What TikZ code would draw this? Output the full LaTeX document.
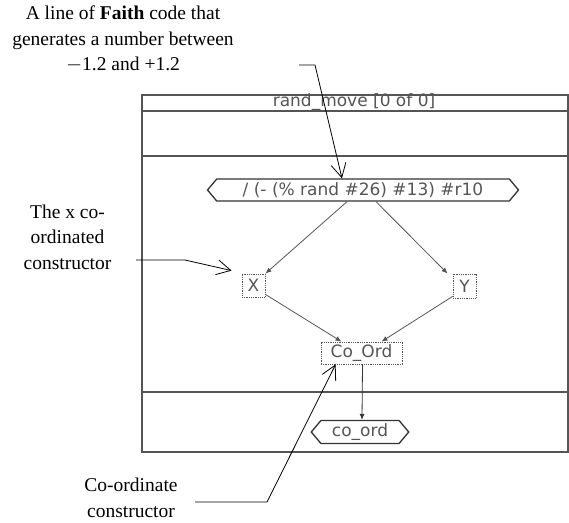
\documentclass[tikz,border=0pt]{standalone}
\usepackage{fontspec}
\setmainfont{Liberation Serif}
\newfontfamily\faithfont{DejaVu Sans}
\usepackage{tikz}
\usetikzlibrary{arrows.meta, shapes.symbols}
\definecolor{fgray}{RGB}{85,85,85}

\begin{document}
\begin{tikzpicture}[x=1pt, y=-1pt, >=Latex,   % pixel coordinates, y downwards
					note/.style={align=center, font=\fontsize{19.5}{25.5}\selectfont, inner sep=0pt},
					lead/.style={line width=0.8pt, -{Straight Barb[length=14pt,width=15pt]}},
					frm/.style={draw=fgray, line width=1.2pt},
					cons/.style={draw=fgray, densely dotted, thick, inner sep=0pt, text=fgray, font=\faithfont\fontsize{17}{18}\selectfont},
					term/.style={signal, signal to=west and east, signal pointer angle=100, draw=black!80, line width=1.3pt,
						inner ysep=0pt, minimum height=22pt, text=fgray, font=\faithfont\fontsize{17}{18}\selectfont},
					flow/.style={draw=fgray, thick, -{Latex[length=6pt,width=5pt]}}]
					\useasboundingbox (0,0) rectangle (569,522);
					% frame of the rule
					\draw[frm] (142,95) rectangle (568,452);
					\draw[frm] (142,111) -- (568,111);
					\draw[frm] (142,156) -- (568,156);
					\draw[frm] (142,392) -- (568,392);
					\node[text=fgray, inner sep=0pt, font=\faithfont\fontsize{17}{17}\selectfont] (title) at (354,102) {rand\_move [0 of 0]};
					% nodes of the rule
					\node[term, inner xsep=26pt] (expr) at (363,190) {/ (- (\% rand \#26) \#13) \#r10};
					\node[cons, minimum width=23pt, minimum height=23pt] (xcons) at (253.5,285.5) {X};
					\node[cons, minimum width=23pt, minimum height=24pt] (ycons) at (464.5,286) {Y};
					\node[cons, minimum width=81pt, minimum height=22pt] (cocons) at (361.5,353) {Co\_Ord};
					\node[term, inner xsep=11pt, minimum height=23pt] (coord) at (360,432) {co\_ord};
					\draw[flow] ([xshift=-16pt]expr.south) -- (xcons.north east);
					\draw[flow] ([xshift=13pt]expr.south) -- ([xshift=-5pt]ycons.north west);
					\draw[flow] ([yshift=3pt]xcons.south east) -- ([xshift=-20pt]cocons.north);
					\draw[flow] ([yshift=2pt]ycons.south west) -- ([xshift=20pt]cocons.north);
					\draw[flow, draw=black!80] ([xshift=1pt]cocons.south) -- ([xshift=2pt]coord.north);
					% notes
					\node[note] (faithnote) at (123,39) {A line of \textbf{Faith} code that\\generates a number between\\$-$1.2 and +1.2};
					\node[note] (xnote) at (67.5,237) {The x co-\\ordinated\\constructor};
					\node[note] (conote) at (131,498) {Co-ordinate\\constructor};
					\coordinate (faithtail) at (299,65);
					\coordinate (xtail) at (136,260);
					\coordinate (cotail) at (195,502);
					\draw[lead] (faithtail) -- ++(16,0) -- ([xshift=-21pt]expr.north);
					\draw[lead] (xtail) -- ++(49,0) -- ([shift={(-10pt,3pt)}]xcons.north west);
					\draw[lead] (cotail) -- ++(72,0) -- ([xshift=15pt]cocons.south west);
				\end{tikzpicture}
\end{document}
